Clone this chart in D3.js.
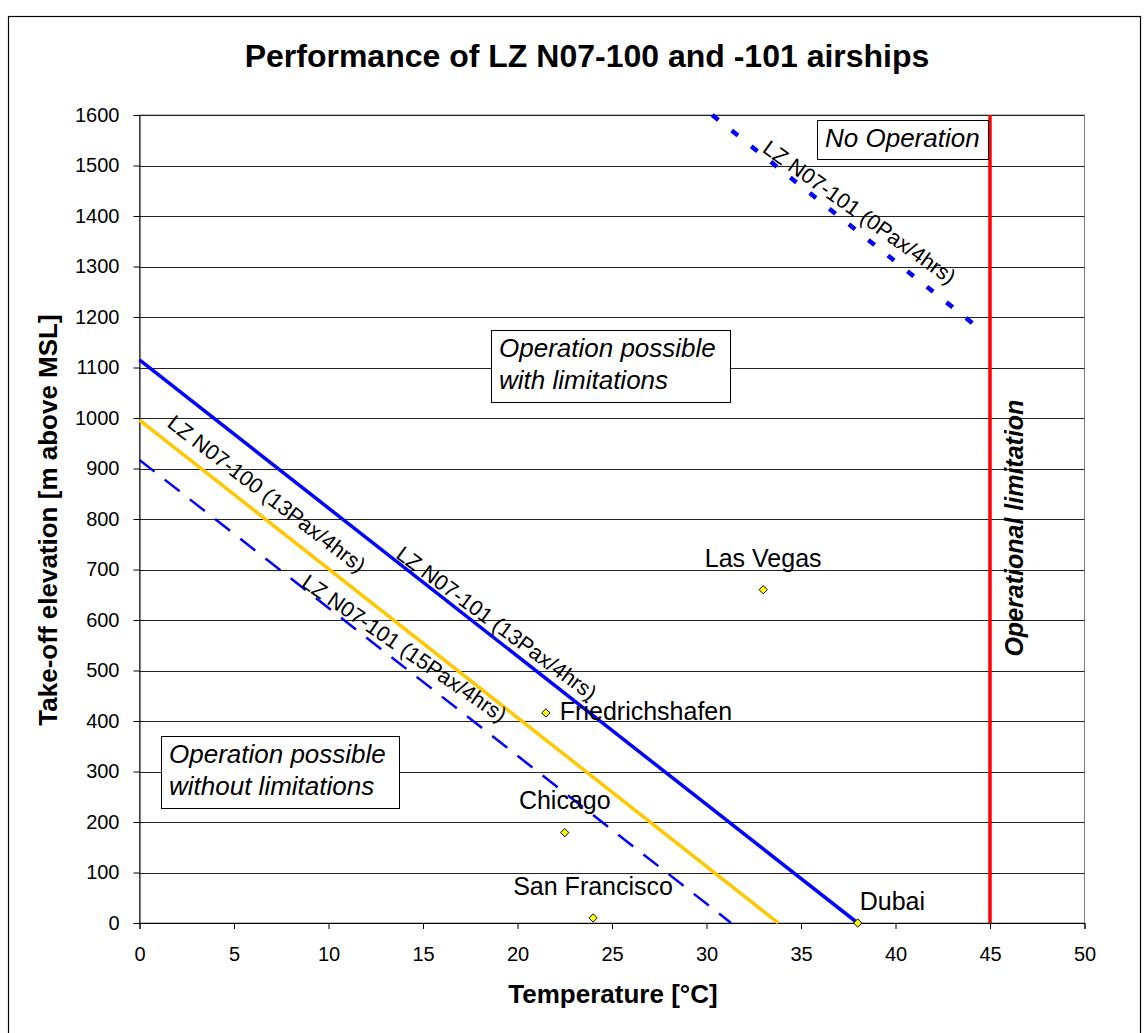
<!DOCTYPE html>
<html>
<head>
<meta charset="utf-8">
<script src="https://cdn.jsdelivr.net/npm/d3@7"></script>
<style>
  body { margin: 0; background: #fff; }
  text { font-family: "Liberation Sans", Arial, sans-serif; }
</style>
</head>
<body>
<svg id="chart"></svg>
<script>
// data
const xTicks = [0, 5, 10, 15, 20, 25, 30, 35, 40, 45, 50];
const yTicks = [0, 100, 200, 300, 400, 500, 600, 700, 800, 900, 1000, 1100, 1200, 1300, 1400, 1500, 1600];

const lineNames = ["LZ N07-101 (13Pax/4hrs)", "LZ N07-100 (13Pax/4hrs)", "LZ N07-101 (15Pax/4hrs)", "LZ N07-101 (0Pax/4hrs)"];
const lineTemps = [[0, 38], [0, 33.8], [0, 31.3], [30.3, 44.6]];
const lineElevs = [[1115, 0], [996, 0], [917, 0], [1600, 1172]];

const cities = ["Las Vegas", "Friedrichshafen", "Chicago", "San Francisco", "Dubai"];
const cityTemps = [33, 21.5, 22.5, 24, 38];
const cityElevs = [660, 416, 179, 10, 0];

const limitTemp = 45;

const W = 1144, H = 1033;
const margin = { top: 115, right: 59.5, bottom: 110, left: 139.5 };
const width = W - margin.left - margin.right;
const height = H - margin.top - margin.bottom;

const svg = d3.select("#chart").attr("width", W).attr("height", H);

// outer frame
svg.append("rect")
  .attr("x", 8.5).attr("y", 16.5)
  .attr("width", 1132).attr("height", 1030)
  .attr("fill", "none").attr("stroke", "#000").attr("stroke-width", 1.2);

svg.append("text")
  .attr("x", 587).attr("y", 67)
  .attr("text-anchor", "middle")
  .style("font-size", "32px").style("font-weight", "bold")
  .text("Performance of LZ N07-100 and -101 airships");

const chart = svg.append("g").attr("transform", `translate(${margin.left},${margin.top})`);

const x = d3.scaleLinear().domain([0, 50]).range([0, width]);
const y = d3.scaleLinear().domain([0, 1600]).range([height, 0]);

// plot area border
chart.append("rect")
  .attr("width", width).attr("height", height)
  .attr("fill", "none").attr("stroke", "#808080");

// gridlines
chart.append("g").selectAll("line")
  .data(yTicks.filter(d => d > 0))
  .enter().append("line")
  .attr("x1", 0).attr("x2", width)
  .attr("y1", d => Math.round(y(d)) + 0.5).attr("y2", d => Math.round(y(d)) + 0.5)
  .attr("stroke", "#222").attr("stroke-width", 1);

const xAxis = chart.append("g")
  .attr("transform", `translate(0,${height})`)
  .call(d3.axisBottom(x).tickValues(xTicks).tickSize(6).tickPadding(18).tickFormat(d3.format("d")));
const yAxis = chart.append("g")
  .call(d3.axisLeft(y).tickValues(yTicks).tickSize(6).tickPadding(14).tickFormat(d3.format("d")));
[xAxis, yAxis].forEach(a => {
  a.selectAll("text").style("font-size", "20px").attr("fill", "#000");
  a.select(".domain").attr("stroke", "#000");
  a.selectAll(".tick line").attr("stroke", "#000");
});

svg.append("text")
  .attr("x", 613).attr("y", 1003)
  .attr("text-anchor", "middle")
  .style("font-size", "26px").style("font-weight", "bold")
  .text("Temperature [°C]");

svg.append("text")
  .attr("transform", `translate(57,520) rotate(-90)`)
  .attr("text-anchor", "middle")
  .style("font-size", "26px").style("font-weight", "bold")
  .text("Take-off elevation [m above MSL]");

// operational limitation
chart.append("line")
  .attr("x1", x(limitTemp)).attr("x2", x(limitTemp))
  .attr("y1", y(0)).attr("y2", y(1600))
  .attr("stroke", "#ff0000").attr("stroke-width", 3.5);

chart.append("text")
  .attr("transform", `translate(${x(limitTemp) + 33},${y(782)}) rotate(-90)`)
  .attr("text-anchor", "middle")
  .style("font-size", "25px").style("font-weight", "bold").style("font-style", "italic")
  .text("Operational limitation");

// performance lines
const styles = [
  { color: "#0000ff", w: 3.5, dash: null, labelT: 13.5, dv: -3, rot: 36.5 },
  { color: "#ffc800", w: 3.5, dash: null, labelT: 1.4, dv: -15, rot: 37.5 },
  { color: "#0000ff", w: 2.5, dash: "19,13", labelT: 8.5, dv: 0, rot: 34.5 },
  { color: "#0000ff", w: 4.5, dash: "8,17", labelT: 32.9, dv: -3, rot: 35.5 }
];

lineNames.forEach((name, i) => {
  const pts = lineTemps[i].map((t, j) => [x(t), y(lineElevs[i][j])]);
  const s = styles[i];
  chart.append("path")
    .attr("d", d3.line()(pts))
    .attr("fill", "none")
    .attr("stroke", s.color)
    .attr("stroke-width", s.w)
    .attr("stroke-dasharray", s.dash);

  const [t0, t1] = lineTemps[i];
  const [e0, e1] = lineElevs[i];
  const eAt = e0 + (e1 - e0) * (s.labelT - t0) / (t1 - t0);
  chart.append("text")
    .attr("transform", `translate(${x(s.labelT)},${y(eAt) + s.dv}) rotate(${s.rot})`)
    .style("font-size", "21.5px")
    .text(name);
});

// cities
const labelPlace = {
  "Las Vegas": { dx: 0, dy: -23, anchor: "middle" },
  "Friedrichshafen": { dx: 14, dy: 7, anchor: "start" },
  "Chicago": { dx: 0, dy: -24, anchor: "middle" },
  "San Francisco": { dx: 0, dy: -23, anchor: "middle" },
  "Dubai": { dx: 2, dy: -13, anchor: "start" }
};

cities.forEach((c, i) => {
  const cx = x(cityTemps[i]), cy = y(cityElevs[i]);
  chart.append("path")
    .attr("d", d3.symbol(d3.symbolDiamond2, 44)())
    .attr("transform", `translate(${cx},${cy})`)
    .attr("fill", "#ffff00").attr("stroke", "#000").attr("stroke-width", 1);
  const p = labelPlace[c];
  chart.append("text")
    .attr("x", cx + p.dx).attr("y", cy + p.dy)
    .attr("text-anchor", p.anchor)
    .style("font-size", "25px")
    .text(c);
});

// annotation boxes
function box(x0, y0, w, h, lines) {
  svg.append("rect")
    .attr("x", x0 + 0.5).attr("y", y0 + 0.5).attr("width", w).attr("height", h)
    .attr("fill", "#fff").attr("stroke", "#000").attr("stroke-width", 1);
  lines.forEach((l, k) => {
    svg.append("text")
      .attr("x", x0 + 8).attr("y", y0 + 27 + k * 32)
      .style("font-size", "26px").style("font-style", "italic")
      .text(l);
  });
}
box(817, 120, 171, 39, ["No Operation"]);
box(491, 330, 239, 72, ["Operation possible", "with limitations"]);
box(161, 736, 238, 72, ["Operation possible", "without limitations"]);
</script>
</body>
</html>
